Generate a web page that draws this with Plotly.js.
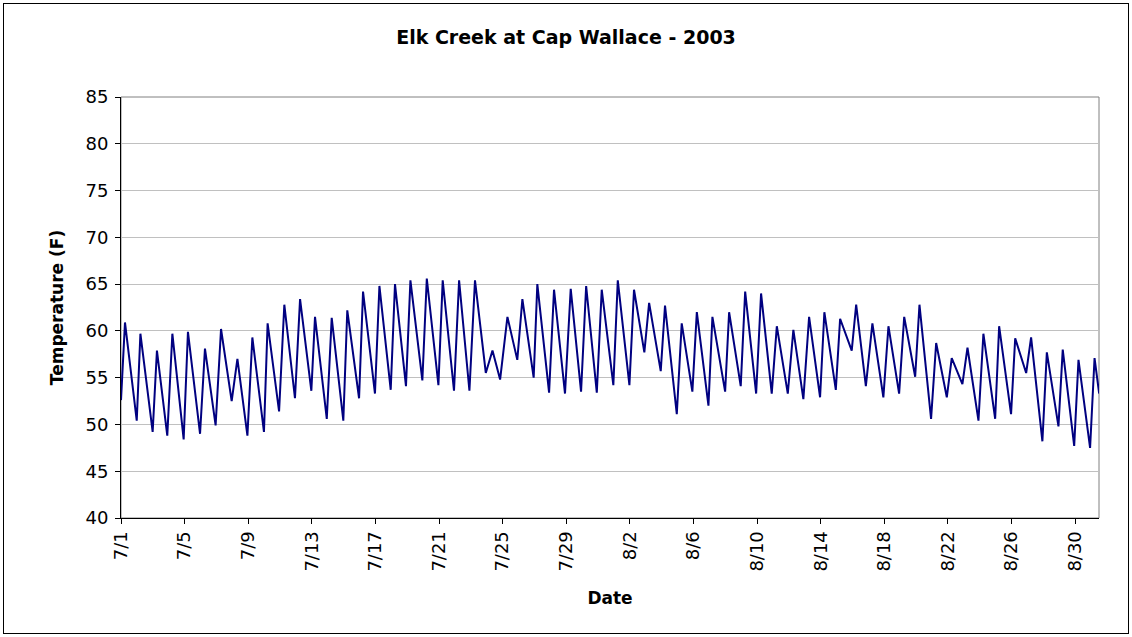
<!DOCTYPE html>
<html>
<head>
<meta charset="utf-8">
<script src="https://cdn.plot.ly/plotly-3.0.1.min.js"></script>
<style>
  html, body { margin: 0; padding: 0; background: #ffffff; }
  #chart { width: 1132px; height: 637px; }
  #frame { position: absolute; left: 3px; top: 3px; width: 1124px; height: 629px;
           border: 1px solid #000000; pointer-events: none; }
</style>
</head>
<body>
<div id="chart"></div>
<div id="frame"></div>
<script>
// Turning points of the hourly record: days elapsed since 2003-07-01 00:00, and temperature (F)
const dayOffset = [
  0.00, 0.25, 0.99, 1.22, 1.99, 2.26, 2.91, 3.23, 3.94, 4.21,
  4.97, 5.28, 5.95, 6.29, 6.96, 7.32, 7.95, 8.26, 8.99, 9.22,
  9.94, 10.27, 10.94, 11.26, 11.97, 12.20, 12.94, 13.25, 13.98, 14.23,
  14.97, 15.22, 15.97, 16.25, 16.96, 17.23, 17.92, 18.20, 18.95, 19.23,
  19.96, 20.23, 20.94, 21.26, 21.91, 22.26, 22.94, 23.36, 23.84, 24.30,
  24.92, 25.24, 25.95, 26.18, 26.92, 27.23, 27.92, 28.28, 28.93, 29.25,
  29.92, 30.23, 30.96, 31.24, 31.97, 32.26, 32.91, 33.21, 33.94, 34.21,
  34.95, 35.26, 35.93, 36.21, 36.94, 37.19, 37.99, 38.24, 38.97, 39.25,
  39.94, 40.25, 40.92, 41.24, 41.93, 42.28, 42.91, 43.27, 43.96, 44.23,
  44.95, 45.22, 45.95, 46.23, 46.84, 47.25, 47.94, 48.26, 48.93, 49.25,
  49.94, 50.21, 50.94, 51.26, 51.93, 52.24, 52.91, 53.23, 53.92, 54.23,
  54.97, 55.22, 55.97, 56.23, 56.92, 57.23, 57.94, 58.22, 58.95, 59.22,
  59.94, 60.21, 60.94, 61.22, 61.51
];
const tempF = [
  52.6, 60.9, 50.4, 59.7, 49.2, 57.9, 48.8, 59.7, 48.4, 59.9,
  49.0, 58.1, 49.9, 60.2, 52.5, 57.0, 48.8, 59.3, 49.2, 60.8,
  51.4, 62.8, 52.8, 63.4, 53.6, 61.5, 50.6, 61.4, 50.4, 62.2,
  52.8, 64.2, 53.3, 64.8, 53.7, 65.0, 54.1, 65.4, 54.7, 65.6,
  54.2, 65.4, 53.6, 65.4, 53.6, 65.4, 55.5, 57.9, 54.8, 61.5,
  56.9, 63.4, 55.0, 65.0, 53.4, 64.4, 53.3, 64.5, 53.5, 64.8,
  53.4, 64.4, 54.2, 65.4, 54.2, 64.4, 57.7, 63.0, 55.7, 62.7,
  51.1, 60.8, 53.5, 62.0, 52.0, 61.5, 53.5, 62.0, 54.1, 64.2,
  53.3, 64.0, 53.3, 60.5, 53.3, 60.1, 52.7, 61.5, 52.9, 62.0,
  53.7, 61.3, 57.9, 62.8, 54.1, 60.8, 52.9, 60.5, 53.3, 61.5,
  55.1, 62.8, 50.6, 58.7, 52.9, 57.1, 54.3, 58.2, 50.4, 59.7,
  50.6, 60.5, 51.1, 59.2, 55.5, 59.3, 48.2, 57.7, 49.8, 58.0,
  47.7, 56.9, 47.5, 57.1, 53.3
];
const startDate = '2003-07-01';
const endOffsetDays = 61.5;
const tickDays = ['7/1','7/5','7/9','7/13','7/17','7/21','7/25','7/29','8/2','8/6','8/10','8/14','8/18','8/22','8/26','8/30'];
const yTicks = [40, 45, 50, 55, 60, 65, 70, 75, 80, 85];

const DAY = 86400000;
const t0 = Date.parse(startDate + 'T00:00:00Z');
const toIso = ms => new Date(ms).toISOString().replace('Z', '').replace('T', ' ');
const xs = dayOffset.map(d => toIso(t0 + d * DAY));
const tickVals = tickDays.map(s => {
  const [m, d] = s.split('/').map(Number);
  return toIso(Date.UTC(2003, m - 1, d));
});

const FONT = 'DejaVu Sans, Arial, sans-serif';

const trace = {
  x: xs, y: tempF, type: 'scatter', mode: 'lines',
  line: { color: '#000080', width: 2 },
  hoverinfo: 'x+y'
};

const layout = {
  width: 1132, height: 637,
  margin: { l: 121, r: 33, t: 97, b: 119 },
  paper_bgcolor: '#ffffff', plot_bgcolor: '#ffffff',
  showlegend: false,
  font: { family: FONT, color: '#000000' },
  title: {
    text: '<b>Elk Creek at Cap Wallace - 2003</b>',
    font: { family: FONT, size: 19, color: '#000000' },
    x: 0.5, xref: 'container', y: 1 - 37 / 637, yref: 'container', yanchor: 'middle'
  },
  xaxis: {
    type: 'date',
    range: [toIso(t0), toIso(t0 + endOffsetDays * DAY)],
    tickmode: 'array', tickvals: tickVals, ticktext: tickDays,
    tickangle: -90,
    tickfont: { family: FONT, size: 18, color: '#000000' },
    ticks: 'outside', ticklen: 5, tickcolor: '#000000', tickwidth: 1,
    showline: true, linecolor: '#000000', linewidth: 1,
    showgrid: false, zeroline: false, automargin: false,
    title: { text: '<b>Date</b>', font: { family: FONT, size: 17, color: '#000000' }, standoff: 21 }
  },
  yaxis: {
    range: [40, 85],
    tickmode: 'array', tickvals: yTicks, ticktext: yTicks.map(String),
    tickfont: { family: FONT, size: 18, color: '#000000' },
    ticks: 'outside', ticklen: 5, tickcolor: '#000000', tickwidth: 1,
    ticklabelstandoff: 3,
    showline: true, linecolor: '#000000', linewidth: 1,
    showgrid: true, gridcolor: '#c0c0c0', gridwidth: 1,
    zeroline: false, automargin: false,
    title: { text: '<b>Temperature (F)</b>', font: { family: FONT, size: 17, color: '#000000' }, standoff: 17 }
  },
  shapes: [{
    type: 'rect', xref: 'paper', yref: 'paper', x0: 0, x1: 1, y0: 0, y1: 1,
    line: { color: '#808080', width: 1 }, layer: 'below'
  }]
};

Plotly.newPlot('chart', [trace], layout, { displayModeBar: false, staticPlot: true });
</script>
</body>
</html>
